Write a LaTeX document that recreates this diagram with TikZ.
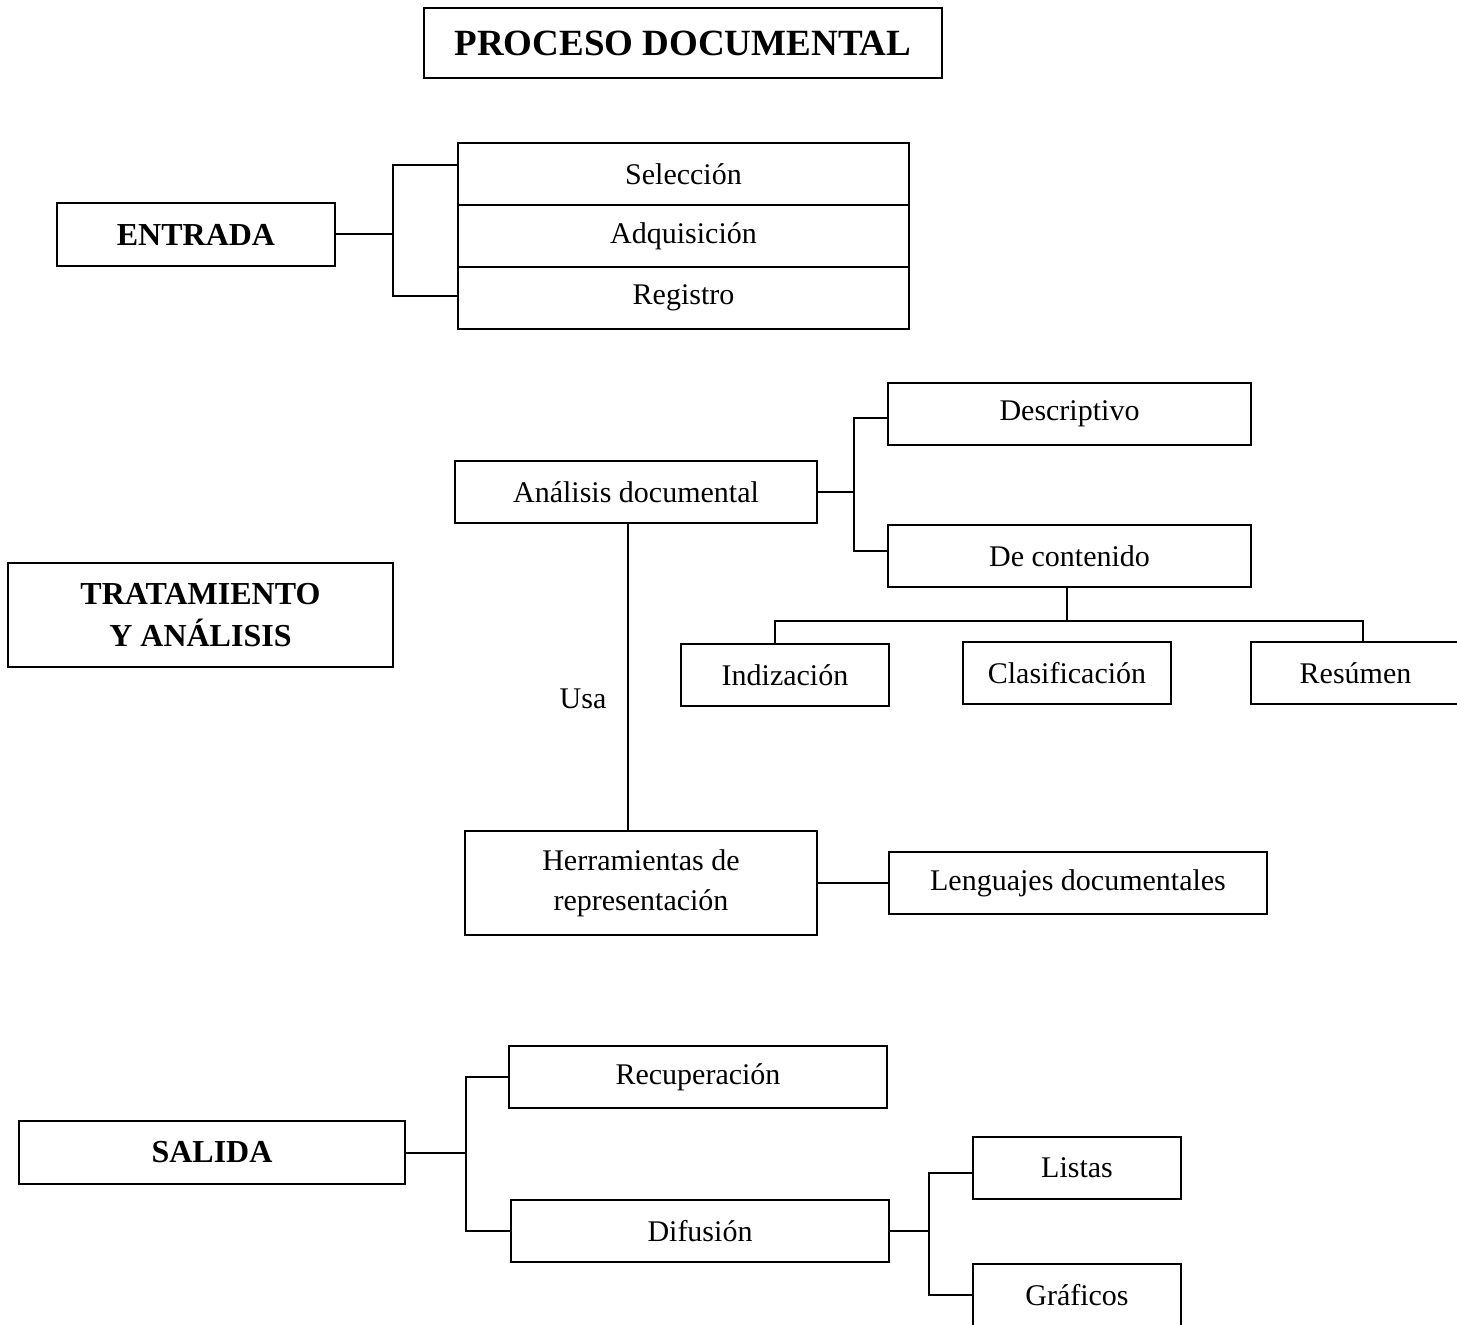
\documentclass[tikz,border=0pt]{standalone}
\usepackage{fontspec}
\setmainfont{Liberation Serif}
\begin{document}
\begin{tikzpicture}[x=0.5pt,y=-0.5pt,
  box/.style={draw,line width=1pt,inner sep=0pt,outer sep=0pt,align=center,
              font=\fontsize{15}{19}\selectfont},
  head/.style={box,font=\fontsize{16}{21}\selectfont\bfseries},
  link/.style={line width=1pt}]
\useasboundingbox (0,0) rectangle (1457,1325);
\clip (0,0) rectangle (1457,1325);

% title
\node[box,font=\fontsize{18.5}{22}\selectfont\bfseries,minimum width=259pt,minimum height=35pt]
  (title) at (683,43) {PROCESO DOCUMENTAL};

% entrada
\node[head,minimum width=139pt,minimum height=31.5pt] (entrada) at (196,234.5) {ENTRADA};
\node[box,minimum width=225.5pt,minimum height=31pt] (sel) at (683.5,174) {Selección};
\node[box,minimum width=225.5pt,minimum height=31pt] (adq) at (683.5,236) {Adquisición};
\node[box,minimum width=225.5pt,minimum height=31pt] (reg) at (683.5,298) {Registro};
\draw[link] (entrada.east) -- ++(58,0) coordinate (ej);
\draw[link] ([yshift=4.5pt]sel.west) -| (ej) |- ([yshift=1pt]reg.west);

% tratamiento y analisis
\node[head,minimum width=192.5pt,minimum height=52pt] (trat) at (200.5,615)
  {TRATAMIENTO\\Y ANÁLISIS};
\node[box,minimum width=181pt,minimum height=31pt] (ana) at (636,492) {Análisis documental};
\node[box,minimum width=181.5pt,minimum height=31pt] (desc) at (1069.5,414) {Descriptivo};
\node[box,minimum width=181.5pt,minimum height=31pt] (dc) at (1069.5,556) {De contenido};
\draw[link] (ana.east) -- ++(37,0) coordinate (aj);
\draw[link] ([yshift=-2pt]desc.west) -| (aj) |- ([yshift=2.5pt]dc.west);

\node[box,minimum width=104pt,minimum height=31pt] (ind) at (785,675) {Indización};
\node[box,minimum width=104pt,minimum height=31pt] (clas) at (1067,673) {Clasificación};
\node[box,minimum width=104.5pt,minimum height=31pt] (res) at (1355.5,673) {Resúmen};
\draw[link] ([xshift=-1.25pt]dc.south) -- ++(0,34) coordinate (dj);
\draw[link] ([xshift=-5pt]ind.north) |- (dj) -| ([xshift=3.75pt]res.north);

\node[box,minimum width=176pt,minimum height=52pt,
      font=\fontsize{15}{20}\selectfont] (herr) at (641,883)
  {Herramientas de\\representación};
\node[box,minimum width=189pt,minimum height=31pt] (leng) at (1078,883) {Lenguajes documentales};
\draw[link] ([xshift=-4pt]ana.south) -- ([xshift=-4pt]ana.south |- herr.north)
  node[pos=0.57,left=7pt,font=\fontsize{15}{19}\selectfont] (usa) {Usa};
\draw[link] (herr.east) -- (leng.west);

% salida
\node[head,minimum width=193pt,minimum height=31.5pt] (salida) at (212,1152.5) {SALIDA};
\node[box,minimum width=189pt,minimum height=31pt] (rec) at (698,1077) {Recuperación};
\node[box,minimum width=189pt,minimum height=31pt] (dif) at (700,1231) {Difusión};
\draw[link] (salida.east) -- ++(61,0) coordinate (sj);
\draw[link] (rec.west) -| (sj) |- (dif.west);

\node[box,minimum width=104pt,minimum height=31pt] (lis) at (1077,1168) {Listas};
\node[box,minimum width=104pt,minimum height=31pt] (graf) at (1077,1295) {Gráficos};
\draw[link] (dif.east) -- ++(40,0) coordinate (dfj);
\draw[link] ([yshift=-2.5pt]lis.west) -| (dfj) |- (graf.west);
\end{tikzpicture}
\end{document}
